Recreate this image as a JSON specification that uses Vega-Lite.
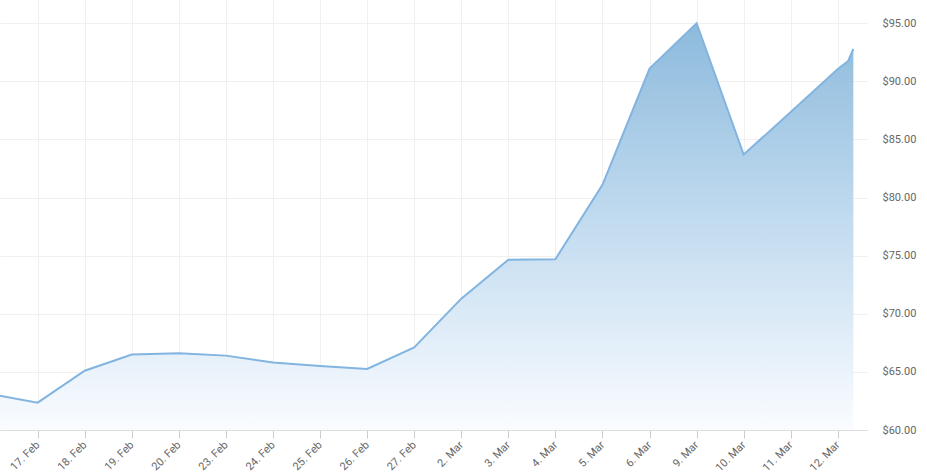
{
  "$schema": "https://vega.github.io/schema/vega-lite/v6.json",
  "width": 867,
  "height": 430,
  "autosize": "none",
  "padding": {"left": 0, "top": 0, "right": 60, "bottom": 45},
  "background": "white",
  "config": {
    "view": {"stroke": null},
    "font": "Roboto"
  },
  "data": {
    "values": [
      {"t": 0, "date": "16. Feb", "price": 63.1},
      {"t": 1, "date": "17. Feb", "price": 62.35},
      {"t": 2, "date": "18. Feb", "price": 65.1},
      {"t": 3, "date": "19. Feb", "price": 66.5},
      {"t": 4, "date": "20. Feb", "price": 66.6},
      {"t": 5, "date": "23. Feb", "price": 66.4},
      {"t": 6, "date": "24. Feb", "price": 65.8},
      {"t": 7, "date": "25. Feb", "price": 65.5},
      {"t": 8, "date": "26. Feb", "price": 65.25},
      {"t": 9, "date": "27. Feb", "price": 67.1},
      {"t": 10, "date": "2. Mar", "price": 71.3},
      {"t": 11, "date": "3. Mar", "price": 74.65},
      {"t": 12, "date": "4. Mar", "price": 74.7},
      {"t": 13, "date": "5. Mar", "price": 81.1},
      {"t": 14, "date": "6. Mar", "price": 91.1},
      {"t": 15, "date": "9. Mar", "price": 95.0},
      {"t": 16, "date": "10. Mar", "price": 83.7},
      {"t": 17, "date": "11. Mar", "price": 87.36},
      {"t": 18, "date": "12. Mar", "price": 91.07},
      {"t": 18.22, "date": "13. Mar", "price": 91.75},
      {"t": 18.33, "date": "13. Mar", "price": 92.8}
    ]
  },
  "layer": [
    {
      "mark": {
        "type": "area",
        "clip": true,
        "interpolate": "linear",
        "color": {
          "gradient": "linear",
          "x1": 0, "y1": 0, "x2": 0, "y2": 1,
          "stops": [
            {"offset": 0, "color": "#8dbadc"},
            {"offset": 0.5, "color": "#c3dcf0"},
            {"offset": 1, "color": "#fafcff"}
          ]
        }
      },
      "encoding": {
        "x": {
          "field": "t",
          "type": "quantitative",
          "scale": {"domain": [0.2, 18.62], "nice": false, "zero": false},
          "axis": {
            "values": [1, 2, 3, 4, 5, 6, 7, 8, 9, 10, 11, 12, 13, 14, 15, 16, 17, 18],
            "labelExpr": "['16. Feb','17. Feb','18. Feb','19. Feb','20. Feb','23. Feb','24. Feb','25. Feb','26. Feb','27. Feb','2. Mar','3. Mar','4. Mar','5. Mar','6. Mar','9. Mar','10. Mar','11. Mar','12. Mar'][datum.value]",
            "title": null,
            "labelAngle": -45,
            "labelAlign": "right",
            "labelBaseline": "middle",
            "labelFontSize": 11,
            "labelColor": "#666666",
            "labelPadding": 5,
            "tickSize": 8,
            "tickColor": "#cccccc",
            "domainColor": "#dddddd",
            "grid": true,
            "gridColor": "#f0f0f0",
            "labelOverlap": false
          }
        },
        "y": {
          "field": "price",
          "type": "quantitative",
          "scale": {"domain": [60, 97], "nice": false, "zero": false},
          "axis": {
            "orient": "right",
            "values": [60, 65, 70, 75, 80, 85, 90, 95],
            "format": "$,.2f",
            "title": null,
            "ticks": false,
            "domain": false,
            "labelPadding": 15,
            "labelFontSize": 11,
            "labelColor": "#666666",
            "grid": true,
            "gridColor": "#f0f0f0"
          }
        },
        "y2": {"datum": 60}
      }
    },
    {
      "mark": {"type": "line", "clip": true, "color": "#82b4df", "strokeWidth": 2},
      "encoding": {
        "x": {"field": "t", "type": "quantitative"},
        "y": {"field": "price", "type": "quantitative"}
      }
    }
  ]
}
